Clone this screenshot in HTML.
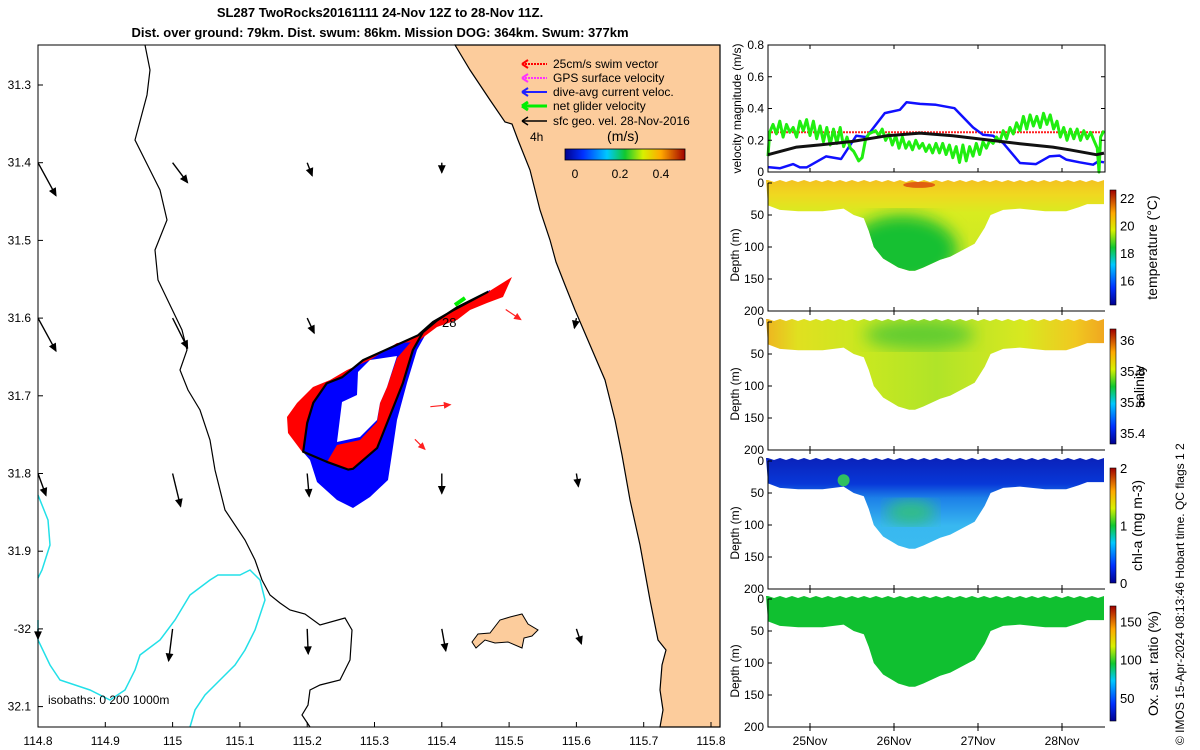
<!DOCTYPE html>
<html><head><meta charset="utf-8">
<style>
body{margin:0;background:#fff;}
svg{display:block;font-family:"Liberation Sans","DejaVu Sans",sans-serif;}
</style></head>
<body>
<svg id="fig" width="1200" height="750" viewBox="0 0 1200 750" xmlns="http://www.w3.org/2000/svg">
<defs>
 <linearGradient id="jetV" x1="0" y1="1" x2="0" y2="0">
  <stop offset="0" stop-color="#00008f"/><stop offset="0.15" stop-color="#0030ff"/><stop offset="0.35" stop-color="#00c8ff"/>
  <stop offset="0.5" stop-color="#10c830"/><stop offset="0.65" stop-color="#d8f000"/><stop offset="0.8" stop-color="#ffa800"/><stop offset="1" stop-color="#a00000"/>
 </linearGradient>
 <linearGradient id="jetH" x1="0" y1="0" x2="1" y2="0">
  <stop offset="0" stop-color="#00008f"/><stop offset="0.15" stop-color="#0030ff"/><stop offset="0.35" stop-color="#00c8ff"/>
  <stop offset="0.5" stop-color="#10c830"/><stop offset="0.65" stop-color="#d8f000"/><stop offset="0.8" stop-color="#ffa800"/><stop offset="1" stop-color="#a00000"/>
 </linearGradient>
 <linearGradient id="tempG" x1="0" y1="0" x2="0" y2="1">
  <stop offset="0" stop-color="#f4c020"/><stop offset="0.12" stop-color="#f0d820"/><stop offset="0.25" stop-color="#d8ec20"/><stop offset="1" stop-color="#b8e428"/>
 </linearGradient>
 <linearGradient id="salG" x1="0" y1="0" x2="1" y2="0">
  <stop offset="0" stop-color="#f0b020"/><stop offset="0.1" stop-color="#e0e020"/><stop offset="0.3" stop-color="#c8e820"/><stop offset="0.5" stop-color="#b0e428"/><stop offset="0.75" stop-color="#d8e820"/><stop offset="0.9" stop-color="#f0c820"/><stop offset="1" stop-color="#f0a020"/>
 </linearGradient>
 <linearGradient id="chlG" x1="0" y1="0" x2="0" y2="1">
  <stop offset="0" stop-color="#0a20b8"/><stop offset="0.2" stop-color="#0838d8"/><stop offset="0.3" stop-color="#1c80e8"/><stop offset="0.5" stop-color="#38b8f0"/><stop offset="1" stop-color="#40c0f0"/>
 </linearGradient>
 <filter id="blur8"><feGaussianBlur stdDeviation="8"/></filter>
</defs>

<text x="380" y="17" text-anchor="middle" font-size="13" font-weight="bold">SL287 TwoRocks20161111 24-Nov 12Z to 28-Nov 11Z.</text>
<text x="380" y="37" text-anchor="middle" font-size="13" font-weight="bold">Dist. over ground: 79km. Dist. swum: 86km. Mission DOG: 364km. Swum: 377km</text>

<g id="map">
 <rect x="38" y="45" width="682" height="682" fill="#fff"/>
 <path fill="#fccc9c" stroke="#000" stroke-width="1.2" d="M455,45 L470,70 L490,100 L505,122 L512,124 L518,140 L530,170 L540,210 L550,240 L556,262 L565,285 L575,310 L590,345 L605,380 L615,420 L622,455 L630,500 L640,545 L650,600 L658,640 L666,650 L662,665 L660,690 L663,710 L660,727 L720,727 L720,45 Z"/>
 <path fill="#fccc9c" stroke="#000" stroke-width="1" d="M472,642 L478,634 L490,633 L500,620 L510,617 L522,614 L528,624 L538,630 L532,636 L524,638 L522,648 L508,642 L495,643 L485,640 L476,648 Z"/>
 <path fill="none" stroke="#000" stroke-width="1.2" d="M145,45 L150,70 L147,95 L135,140 L150,170 L160,190 L167,220 L155,250 L158,280 L170,305 L182,330 L187,350 L180,370 L188,390 L200,410 L210,440 L215,470 L225,510 L245,540 L255,560 L262,580 L270,595 L280,603 L290,610 L305,614 L320,625 L345,618 L352,630 L350,660 L340,680 L320,685 L310,690 L308,705 L302,715 L310,727"/>
 <path fill="none" stroke="#22e0e8" stroke-width="1.5" d="M38,495 L48,520 L50,545 L42,570 L38,578 M38,620 L38,640 L50,665 L60,680 L90,690 L110,700 L125,690 L135,670 L140,655 L160,640 L175,620 L190,595 L210,580 L218,575 L240,575 L250,570 L260,580 L265,600 L255,630 L245,650 L235,665 L220,680 L205,695 L195,710 L190,727"/>
 <g id="vectors"></g>
 <g id="swath">
  <polygon fill="#0000ff" points="490,292 453,310 433,322 418,335 393,347 363,360 342,377 327,383 313,403 307,423 303,452 310,460 317,482 337,500 353,508 370,497 388,480 393,447 397,420 407,383 417,350 427,332 443,320 457,310 477,297 490,290"/>
  <polygon fill="#ff0000" points="512,277 503,297 487,303 470,310 457,320 437,327 417,342 397,343 370,360 347,370 330,380 313,387 297,403 287,417 288,433 303,453 307,423 313,403 327,383 342,377 363,360 393,347 418,335 433,322 453,310 488,292"/>
  <polygon fill="#ff0000" points="327,462 337,445 360,440 377,422 380,403 387,387 397,358 410,343 423,332 413,350 403,383 377,448 353,469 348,470"/>
  <polygon fill="#fff" points="337,442 342,402 357,395 358,372 370,360 397,356 387,387 380,403 377,420 360,437"/>
  <g id="swimArrows"></g>
  <path id="track" fill="none" stroke="#000" stroke-width="2.2" stroke-linejoin="round"/>
  <path stroke="#00ee00" stroke-width="4" d="M455,305 L465,298"/>
  <text x="442" y="327" font-size="13">28</text>
 </g>
 <rect x="38" y="45" width="682" height="682" fill="none" stroke="#000" stroke-width="1"/>
 <g id="mapAxes"></g>
 <g font-size="12">
  <g><line x1="522" y1="64" x2="547" y2="64" stroke="#ff0000" stroke-width="2" stroke-dasharray="2,1"/><path d="M522,64 l6,-4 M522,64 l6,4" stroke="#ff0000" stroke-width="2"/><text x="553" y="68">25cm/s swim vector</text></g>
  <g><line x1="522" y1="78" x2="547" y2="78" stroke="#ff30ff" stroke-width="2" stroke-dasharray="2,1"/><path d="M522,78 l6,-4 M522,78 l6,4" stroke="#ff30ff" stroke-width="2"/><text x="553" y="82">GPS surface velocity</text></g>
  <g><line x1="522" y1="92" x2="547" y2="92" stroke="#2020ff" stroke-width="2"/><path d="M522,92 l6,-4 M522,92 l6,4" stroke="#2020ff" stroke-width="2"/><text x="553" y="96">dive-avg current veloc.</text></g>
  <g><line x1="522" y1="106" x2="547" y2="106" stroke="#00ee00" stroke-width="3"/><path d="M522,106 l6,-4 M522,106 l6,4" stroke="#00ee00" stroke-width="3"/><text x="553" y="110">net glider velocity</text></g>
  <g><line x1="522" y1="121" x2="547" y2="121" stroke="#000" stroke-width="1.5"/><path d="M522,121 l6,-4 M522,121 l6,4" stroke="#000" stroke-width="1.5"/><text x="553" y="125">sfc geo. vel. 28-Nov-2016</text></g>
  <text x="530" y="141" font-size="12">4h</text>
  <text x="623" y="141" font-size="14" text-anchor="middle">(m/s)</text>
  <rect x="565" y="149" width="120" height="11" fill="url(#jetH)" stroke="#000" stroke-width="0.8"/>
  <text x="575" y="178" text-anchor="middle">0</text><text x="620" y="178" text-anchor="middle">0.2</text><text x="661" y="178" text-anchor="middle">0.4</text>
 </g>
 <text x="48" y="704" font-size="12">isobaths: 0   200  1000m</text>
</g>

<g id="right"></g>
<text transform="translate(1184,745) rotate(-90)" font-size="12">© IMOS 15-Apr-2024 08:13:46 Hobart time. QC flags 1  2</text>
</svg>
<script>
// ---------- data ----------
const mapLonTicks=[114.8,114.9,115,115.1,115.2,115.3,115.4,115.5,115.6,115.7,115.8];
const mapLatTicks=[31.3,31.4,31.5,31.6,31.7,31.8,31.9,32.0,32.1];
const mapLatLabels=["31.3","31.4","31.5","31.6","31.7","31.8","31.9","-32","32.1"];
const trackLon=[115.469,115.417,115.387,115.365,115.327,115.283,115.252,115.229,115.209,115.200,115.194,115.229,115.261,115.268,115.304,115.342,115.357,115.372,115.393,115.423,115.469];
const trackLat=[31.566,31.590,31.605,31.622,31.637,31.654,31.676,31.684,31.709,31.735,31.772,31.785,31.795,31.794,31.767,31.684,31.641,31.618,31.603,31.586,31.566];
const vecLon=[114.8,115.0,115.2,115.4,114.8,115.0,115.2,115.6,114.8,115.0,115.2,115.4,115.6,114.8,115.0,115.2,115.4,115.6];
const vecLat=[31.4,31.4,31.4,31.4,31.6,31.6,31.6,31.6,31.8,31.8,31.8,31.8,31.8,32.0,32.0,32.0,32.0,32.0];
const vecU=[0.18,0.15,0.05,0.0,0.18,0.15,0.07,-0.02,0.08,0.08,0.02,0.0,0.02,0.0,-0.04,0.01,0.04,0.05];
const vecV=[-0.33,-0.20,-0.13,-0.10,-0.33,-0.30,-0.15,-0.10,-0.22,-0.33,-0.23,-0.20,-0.13,-0.10,-0.32,-0.25,-0.22,-0.15];
const swimLon=[115.495,115.383,115.360];
const swimLat=[31.589,31.714,31.756];
const swimU=[0.15,0.20,0.10];
const swimV=[-0.10,0.02,-0.10];

const dayTicks=[25,26,27,28];
const dayLabels=["25Nov","26Nov","27Nov","28Nov"];
const velTicks=[0,0.2,0.4,0.6,0.8];
const blueT=[24.50,24.64,24.80,24.88,24.96,25.19,25.37,25.55,25.67,25.89,26.07,26.15,26.31,26.50,26.72,26.94,27.06,27.18,27.30,27.50,27.69,27.85,27.97,28.05,28.21,28.37,28.43,28.50];
const blueV=[0.031,0.023,0.050,0.029,0.029,0.098,0.082,0.228,0.220,0.371,0.392,0.440,0.429,0.423,0.402,0.281,0.235,0.228,0.182,0.057,0.050,0.098,0.103,0.078,0.061,0.046,0.067,0.061];
const blackT=[24.50,24.84,25.12,25.51,25.91,26.31,26.70,27.10,27.50,27.89,28.09,28.41,28.50];
const blackV=[0.109,0.157,0.171,0.193,0.228,0.245,0.228,0.203,0.178,0.157,0.140,0.109,0.119];
const redT=[24.50,28.50];
const redV=[0.25,0.25];
const greenT=[24.50,24.52,24.56,24.60,24.64,24.68,24.72,24.76,24.80,24.84,24.88,24.92,24.96,25.00,25.04,25.08,25.12,25.16,25.20,25.24,25.28,25.32,25.36,25.40,25.44,25.48,25.52,25.55,25.58,25.62,25.66,25.70,25.74,25.78,25.82,25.86,25.90,25.94,25.98,26.02,26.06,26.10,26.14,26.18,26.22,26.26,26.30,26.34,26.38,26.42,26.46,26.50,26.54,26.58,26.62,26.66,26.70,26.74,26.78,26.82,26.86,26.90,26.94,26.98,27.02,27.06,27.10,27.14,27.18,27.22,27.26,27.30,27.34,27.38,27.42,27.46,27.50,27.54,27.58,27.62,27.66,27.70,27.74,27.78,27.82,27.86,27.90,27.94,27.98,28.02,28.06,28.10,28.14,28.18,28.22,28.26,28.30,28.34,28.38,28.42,28.44,28.46,28.50];
const greenV=[0.10,0.25,0.30,0.24,0.32,0.22,0.30,0.25,0.28,0.22,0.32,0.26,0.33,0.23,0.32,0.21,0.29,0.19,0.28,0.17,0.27,0.18,0.28,0.16,0.22,0.15,0.13,0.10,0.07,0.09,0.20,0.24,0.25,0.26,0.23,0.27,0.20,0.24,0.17,0.23,0.15,0.22,0.15,0.19,0.14,0.20,0.15,0.18,0.13,0.17,0.12,0.18,0.12,0.18,0.11,0.17,0.09,0.16,0.06,0.17,0.07,0.16,0.10,0.18,0.11,0.19,0.15,0.20,0.18,0.22,0.19,0.26,0.21,0.28,0.24,0.31,0.26,0.35,0.27,0.36,0.29,0.35,0.28,0.37,0.30,0.36,0.27,0.32,0.22,0.28,0.20,0.27,0.21,0.27,0.20,0.26,0.21,0.25,0.20,0.15,0.00,0.22,0.26];
const profT=[24.50,24.64,24.86,25.15,25.40,25.52,25.64,25.70,25.76,25.87,26.05,26.18,26.25,26.35,26.55,26.67,26.96,27.08,27.15,27.30,27.50,27.80,28.05,28.20,28.30,28.50];
const profD=[35,42,44,44,40,50,55,75,100,118,132,137,137,132,120,115,95,70,50,42,40,44,44,38,33,33];
const depthTicks=[0,50,100,150,200];
const tempTicks=[16,18,20,22];
const salTicks=[35.4,35.6,35.8,36];
const chlTicks=[0,1,2];
const oxTicks=[50,100,150];

// ---------- helpers ----------
const NS="http://www.w3.org/2000/svg";
function mk(tag,attrs,parent){const e=document.createElementNS(NS,tag);for(const k in attrs)e.setAttribute(k,attrs[k]);parent.appendChild(e);return e;}
const lonX=lon=>38+(lon-114.8)*673;
const latY=lat=>85+(lat-31.3)*777;

const ma=document.getElementById('mapAxes');
mapLonTicks.forEach(v=>{const x=lonX(v);
 mk('line',{x1:x,y1:727,x2:x,y2:722,stroke:'#000'},ma);
 const t=mk('text',{x:x,y:745,'text-anchor':'middle','font-size':12},ma);t.textContent=String(v);
 
 });
mapLatTicks.forEach((v,i)=>{const y=latY(v);
 mk('line',{x1:38,y1:y,x2:43,y2:y,stroke:'#000'},ma);
 const t=mk('text',{x:31,y:y+4,'text-anchor':'end','font-size':12},ma);t.textContent=mapLatLabels[i];
 
 });

function arrow(g,x,y,dx,dy,col,w,head){
 const x2=x+dx,y2=y+dy;const L=Math.hypot(dx,dy)||1;const ux=dx/L,uy=dy/L;
 const l=mk('line',{x1:x,y1:y,x2:x2,y2:y2,stroke:col,'stroke-width':w},g);
 mk('path',{d:`M${x2},${y2} L${x2-head*ux+head*0.45*uy},${y2-head*uy-head*0.45*ux} L${x2-head*ux-head*0.45*uy},${y2-head*uy+head*0.45*ux} Z`,fill:col,stroke:col},g);
 return l;}
const vg=document.getElementById('vectors');
vecLon.forEach((lo,i)=>{const a=arrow(vg,lonX(lo),latY(vecLat[i]),vecU[i]*100,-vecV[i]*100,'#000',1.4,7);
 
 });
const sg=document.getElementById('swimArrows');
swimLon.forEach((lo,i)=>{const a=arrow(sg,lonX(lo),latY(swimLat[i]),swimU[i]*100,-swimV[i]*100,'#ff2020',1.2,6);
 
 });
document.getElementById('track').setAttribute('d',trackLon.map((lo,i)=>(i?'L':'M')+lonX(lo).toFixed(1)+','+latY(trackLat[i]).toFixed(1)).join(' '));

const R=document.getElementById('right');
const X0=768,X1=1105;
const dX=d=>X0+(d-24.5)*84;
function xAxisTicks(g,top,bot,labels){
 dayTicks.forEach((d,i)=>{const x=dX(d);
  mk('line',{x1:x,y1:bot,x2:x,y2:bot-4,stroke:'#000'},g);
  mk('line',{x1:x,y1:top,x2:x,y2:top+4,stroke:'#000'},g);
  if(labels){const t=mk('text',{x:x,y:bot+18,'text-anchor':'middle','font-size':12},g);t.textContent=dayLabels[i];
   
   }});}

{const g=mk('g',{},R);
 
 
 const T=45,B=172;const vY=v=>B-v/0.8*(B-T);
 const line=(ts,vs,col,w,name,dash)=>{const p=mk('path',{d:ts.map((t,i)=>(i?'L':'M')+dX(t).toFixed(1)+','+vY(vs[i]).toFixed(1)).join(' '),fill:'none',stroke:col,'stroke-width':w,'stroke-linejoin':'round'},g);if(dash)p.setAttribute('stroke-dasharray',dash);
  
  };
 line(redT,redV,'#ff2020',2,'swim-speed-line','2,1');
 line(blueT,blueV,'#1010ff',2.5,'dive-avg-speed-line');
 line(greenT,greenV,'#20ee10',3,'net-glider-speed-line');
 line(blackT,blackV,'#111',3,'geo-speed-line');
 mk('rect',{x:X0,y:T,width:X1-X0,height:B-T,fill:'none',stroke:'#000'},g);
 velTicks.forEach(v=>{const y=vY(v);mk('line',{x1:X0,y1:y,x2:X0+4,y2:y,stroke:'#000'},g);mk('line',{x1:X1,y1:y,x2:X1-4,y2:y,stroke:'#000'},g);
  const t=mk('text',{x:X0-4,y:y+4,'text-anchor':'end','font-size':12},g);t.textContent=v===0?'0':String(v);
  
  });
 xAxisTicks(g,T,B,false);
 const yl=mk('text',{transform:`translate(741,${(T+B)/2}) rotate(-90)`,'text-anchor':'middle','font-size':12},g);yl.textContent='velocity magnitude (m/s)';
 
 
}

function section(name,T,fill,extra,cbTicks,cbMin,cbMax,cbTitle,titleX,labels){
 const B=T+128;const g=mk('g',{},R);
 
 
 const dY=d=>T+d/200*(B-T);
 const cid='clip-'+name;
 const cp=mk('clipPath',{id:cid},g);
 let d=`M${dX(24.5)-2},${T-3} `;
 for(let x=0;x<=56;x++){const t=24.5+x*4/56;d+=`L${dX(t).toFixed(1)},${(T-3+(x%2?2:0))} `;}
 for(let i=profT.length-1;i>=0;i--)d+=`L${dX(profT[i]).toFixed(1)},${dY(profD[i]).toFixed(1)} `;
 mk('path',{d:d+'Z'},cp);
 const inner=mk('g',{'clip-path':`url(#${cid})`},g);
 mk('rect',{x:X0-5,y:T-5,width:X1-X0+10,height:140,fill:fill},inner);
 extra(inner,dY);
 mk('path',{d:`M${X0},${T} V${B} H${X1}`,fill:'none',stroke:'#000'},g);
 depthTicks.forEach(v=>{const y=dY(v);mk('line',{x1:X0,y1:y,x2:X0+4,y2:y,stroke:'#000'},g);
  const t=mk('text',{x:X0-4,y:y+4,'text-anchor':'end','font-size':12},g);t.textContent=String(v);
  
  });
 xAxisTicks(g,B,B,labels);
 const yl=mk('text',{transform:`translate(739,${(T+B)/2+8}) rotate(-90)`,'text-anchor':'middle','font-size':12},g);yl.textContent='Depth (m)';
 
 
 const cT=T+7,cB=B-6;
 const cb=mk('rect',{x:1110,y:cT,width:6,height:cB-cT,fill:'url(#jetV)',stroke:'#000','stroke-width':0.6},g);
 
 
 cbTicks.forEach(v=>{const y=cB-(v-cbMin)/(cbMax-cbMin)*(cB-cT);
  const t=mk('text',{x:1120,y:y+5,'font-size':13},g);t.textContent=String(v);
  
  });
 const ct=mk('text',{transform:`translate(${titleX},${(cT+cB)/2}) rotate(-90)`,'text-anchor':'middle','font-size':14},g);ct.textContent=cbTitle;
 
 
}
section('temperature-panel',183,'url(#tempG)',(g,dY)=>{
 mk('ellipse',{cx:dX(26.1),cy:dY(105),rx:55,ry:35,fill:'#18c030',filter:'url(#blur8)'},g);
 mk('ellipse',{cx:dX(26.3),cy:dY(3),rx:16,ry:3,fill:'#e06010'},g);
},tempTicks,14.2,22.6,'temperature (°C)',1157,false);
section('salinity-panel',322,'url(#salG)',(g,dY)=>{
 mk('ellipse',{cx:dX(26.3),cy:dY(20),rx:55,ry:14,fill:'#60cc30',filter:'url(#blur8)'},g);
},salTicks,35.33,36.07,'salinity',1144,false);
section('chl-panel',461,'url(#chlG)',(g,dY)=>{
 mk('ellipse',{cx:dX(26.2),cy:dY(80),rx:25,ry:12,fill:'#30c080',filter:'url(#blur8)'},g);
 mk('ellipse',{cx:dX(25.4),cy:dY(30),rx:6,ry:6,fill:'#30c060'},g);
},chlTicks,0,2,'chl-a (mg m-3)',1142,false);
section('oxygen-panel',599,'#10c030',()=>{},oxTicks,20,170,'Ox. sat. ratio (%)',1158,true);
</script>
</body></html>
